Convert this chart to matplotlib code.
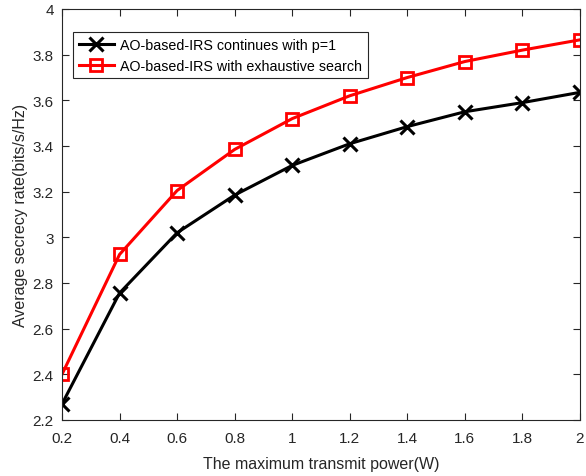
import matplotlib
matplotlib.use("Agg")
import matplotlib.pyplot as plt

plt.rcParams['font.family'] = ['Liberation Sans', 'DejaVu Sans']

power = [0.2, 0.4, 0.6, 0.8, 1.0, 1.2, 1.4, 1.6, 1.8, 2.0]
rate_cont = [2.27, 2.756, 3.02, 3.185, 3.315, 3.41, 3.485, 3.55, 3.59, 3.635]
rate_exh = [2.40, 2.925, 3.205, 3.385, 3.52, 3.62, 3.70, 3.77, 3.82, 3.865]
label_cont = 'AO-based-IRS continues with p=1'
label_exh = 'AO-based-IRS with exhaustive search'
xticks = [0.2, 0.4, 0.6, 0.8, 1, 1.2, 1.4, 1.6, 1.8, 2]
xticklabels = ['0.2', '0.4', '0.6', '0.8', '1', '1.2', '1.4', '1.6', '1.8', '2']
yticks = [2.2, 2.4, 2.6, 2.8, 3, 3.2, 3.4, 3.6, 3.8, 4]
yticklabels = ['2.2', '2.4', '2.6', '2.8', '3', '3.2', '3.4', '3.6', '3.8', '4']

fig = plt.figure(figsize=(5.86, 4.77), dpi=100)
ax = fig.add_axes([62/586, 1 - 421/477, (580-62)/586, (421-10)/477])

ax.plot(power, rate_cont, color='black', lw=2.2, marker='x', ms=10, mew=2.2, label=label_cont)
ax.plot(power, rate_exh, color='#ff0000', lw=2.2, marker='s', ms=9, mew=2.0,
        markerfacecolor='none', label=label_exh)

ax.set_xlim(0.2, 2)
ax.set_ylim(2.2, 4)
ax.set_xticks(xticks)
ax.set_xticklabels(xticklabels)
ax.set_yticks(yticks)
ax.set_yticklabels(yticklabels)
ax.tick_params(direction='in', top=True, right=True, labelsize=11, length=5,
               color='#262626', labelcolor='#262626', width=0.8)
ax.tick_params(axis='x', pad=8)
ax.tick_params(axis='y', pad=6)
for s in ax.spines.values():
    s.set_color('#262626')
    s.set_linewidth(0.8)

ax.set_xlabel('The maximum transmit power(W)', fontsize=11.5, color='#262626', labelpad=8)
ax.set_ylabel('Average secrecy rate(bits/s/Hz)', fontsize=11.5, color='#262626', labelpad=3)

leg = ax.legend(loc='upper left', bbox_to_anchor=(0.021, 0.943), fontsize=10.3,
                frameon=True, fancybox=False, edgecolor='#262626', framealpha=1,
                handlelength=2.5, borderpad=0.4, labelspacing=0.45, handletextpad=0.4,
                borderaxespad=0)
leg.get_frame().set_linewidth(0.8)

fig.savefig('out.png', dpi=100)
